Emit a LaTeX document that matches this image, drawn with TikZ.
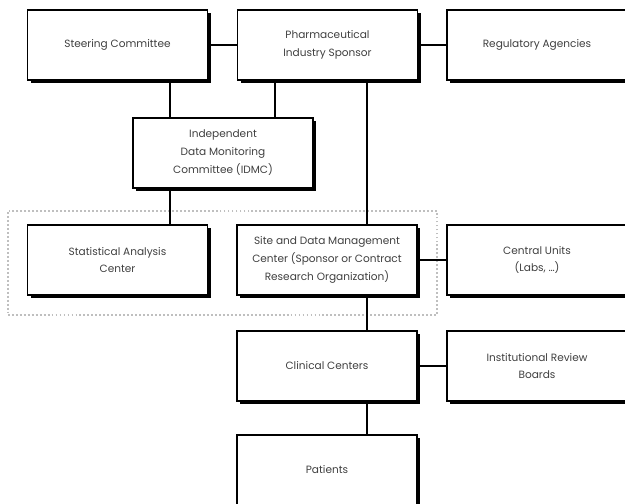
\documentclass[tikz,border=0pt]{standalone}
\usepackage{fontspec}
\setmainfont{Poppins}
\usetikzlibrary{shadows,fit}

\begin{document}
\begin{tikzpicture}[x=0.03cm, y=-0.03cm,
    box/.style={rectangle, draw, line width=1.2pt, fill=white, minimum width=5.4cm, minimum height=2.1cm,
        inner sep=0pt, align=center, text=black!75, font=\fontsize{9}{15.3}\selectfont,
        drop shadow={shadow xshift=2.6pt, shadow yshift=-2.6pt, opacity=1, fill=black}},
    link/.style={line width=1pt},
    group/.style={draw=black!25, line width=1.6pt, dash pattern=on 1.6pt off 1.8pt, inner xsep=0.57cm, inner ysep=0.5cm}]
        \useasboundingbox (0,0) rectangle (625,503);
        \clip (0,0) rectangle (625,503);

        % Nodes
        \node[box] at (117.5, 45)  (steer)    {Steering Committee};
        \node[box] at (327.5, 45)  (pharma)   {Pharmaceutical\\Industry Sponsor};
        \node[box] at (537.0, 45)  (reg)      {Regulatory Agencies};
        \node[box] at (223.0, 153) (idmc)     {Independent\\Data Monitoring\\Committee (IDMC)};
        \node[box] at (117.5, 260) (stat)     {Statistical Analysis\\Center};
        \node[box] at (327.0, 260) (site)     {Site and Data Management\\Center (Sponsor or Contract\\Research Organization)};
        \node[box] at (537.0, 260) (central)  {Central Units\\(Labs, \dots)};
        \node[box] at (327.0, 366) (clinic)   {Clinical Centers};
        \node[box] at (537.0, 366) (irb)      {Institutional Review\\Boards};
        \node[box] at (327.0, 470) (patients) {Patients};

        % dotted frame round the two centers
        \node[group, fit=(stat)(site), yshift=-0.09cm] (sitegroup) {};

        % columns of the vertical links
        \coordinate (colA) at (170, 0);
        \coordinate (colB) at (275, 0);
        \coordinate (colC) at (367, 0);

        \draw[link] (steer) -- (pharma);
        \draw[link] (pharma) -- (reg);
        \draw[link] (steer.south -| colA) -- (idmc.north -| colA);
        \draw[link] (pharma.south -| colB) -- (idmc.north -| colB);
        \draw[link] (pharma.south -| colC) -- (site.north -| colC);
        \draw[link] (idmc.south -| colA) -- (stat.north -| colA);

        \draw[link] (site) -- (central);
        \draw[link] (site.south -| colC) -- (clinic.north -| colC);

        \draw[link] (clinic) -- (irb);
        \draw[link] (clinic.south -| colC) -- (patients.north -| colC);
\end{tikzpicture}
\end{document}
